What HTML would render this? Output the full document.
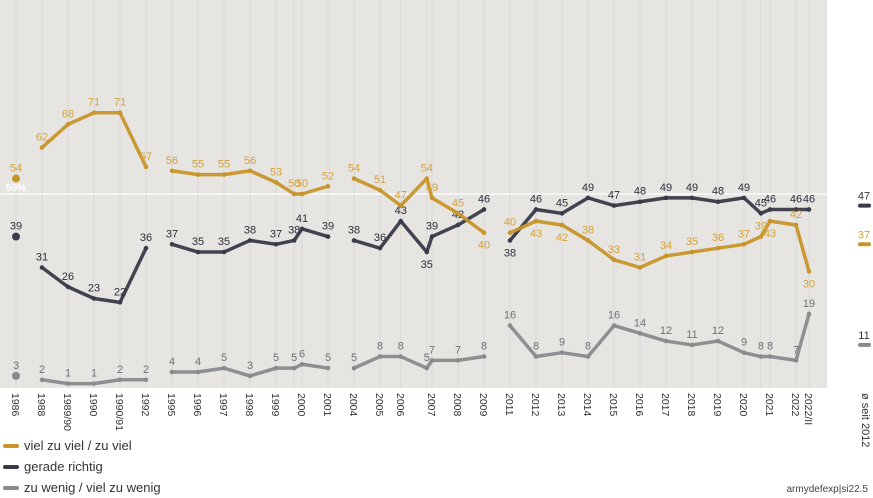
<!DOCTYPE html>
<html><head><meta charset="utf-8"><style>
body{margin:0;background:#fff;font-family:"Liberation Sans",sans-serif}
svg{display:block}
</style></head><body>
<svg id="c" width="873" height="498">
<rect x="0" y="0" width="827" height="388" fill="#e6e5e2"/>
<g id="grid"></g>
<line x1="0" x2="827" y1="194" y2="194" stroke="#fff" stroke-width="1.2"/>
<text x="6" y="191" font-size="10" fill="#fff" font-weight="bold">50%</text>
<g id="series"></g>
<g id="xlabels"></g>
<g id="avg"></g>
<text transform="translate(862,393) rotate(90)" font-size="11" fill="#333">ø seit 2012</text>
<g>
<line x1="5" x2="17" y1="446" y2="446" stroke="#c8952a" stroke-width="4" stroke-linecap="round"/>
<text x="24" y="450" font-size="13" fill="#333">viel zu viel / zu viel</text>
<line x1="5" x2="17" y1="467" y2="467" stroke="#3a3a48" stroke-width="4" stroke-linecap="round"/>
<text x="24" y="471" font-size="13" fill="#333">gerade richtig</text>
<line x1="5" x2="17" y1="488" y2="488" stroke="#8a8a8e" stroke-width="4" stroke-linecap="round"/>
<text x="24" y="492" font-size="13" fill="#333">zu wenig / viel zu wenig</text>
</g>
<text x="868" y="492" font-size="10" fill="#444" text-anchor="end">armydefexp|si22.5</text>
</svg>
<script>
const slots=[0,1,2,3,4,5,6,7,8,9,10,10.7,11,12,13,14,14.8,15.8,16,17,18,19,20,21,22,23,24,25,26,27,28,28.65,29,30,30.5];
const labels=["1986","1988","1989/90","1990","1990/91","1992","1995","1996","1997","1998","1999","","2000","2001","2004","2005","2006","","2007","2008","2009","2011","2012","2013","2014","2015","2016","2017","2018","2019","2020","","2021","2022","2022/II"];
const segStarts=[0,1,6,14,21];
const zuViel=[54,62,68,71,71,57,56,55,55,56,53,50,50,52,54,51,47,54,49,45,40,40,43,42,38,33,31,34,35,36,37,39,43,42,30];
const gerade=[39,31,26,23,22,36,37,35,35,38,37,38,41,39,38,36,43,35,39,42,46,38,46,45,49,47,48,49,49,48,49,45,46,46,46];
const zuWenig=[3,2,1,1,2,2,4,4,5,3,5,5,6,5,5,8,8,5,7,7,8,16,8,9,8,16,14,12,11,12,9,8,8,7,19];
const avgValues=[37,47,11];
const belowZuViel=[20,22,23,32,34];
const belowGerade=[17,21];
const X=s=>16+s*26;
const Y=v=>194-(v-50)*3.87;
const NS="http://www.w3.org/2000/svg";
function mk(tag,attrs,parent){const e=document.createElementNS(NS,tag);for(const k in attrs)e.setAttribute(k,attrs[k]);parent.appendChild(e);return e;}
const grid=document.getElementById('grid'),ser=document.getElementById('series'),xl=document.getElementById('xlabels'),av=document.getElementById('avg');
slots.forEach((s,i)=>{
  const l=mk('line',{x1:X(s),x2:X(s),y1:0,y2:388,stroke:'#d9d8d5','stroke-width':1},grid);
  
  
  if(labels[i]){
    const t=mk('text',{transform:`translate(${X(s)-4},393) rotate(90)`,'font-size':10.5,fill:'#333'},xl);
    t.textContent=labels[i];
    
    
  }
});
const series=[{d:zuWenig,c:'#8a8a8e',lc:'#707075',n:'zu-wenig',below:[]},{d:gerade,c:'#3a3a48',lc:'#2e2e3a',n:'gerade-richtig',below:belowGerade},{d:zuViel,c:'#c8952a',lc:'#d4a23a',n:'zu-viel',below:belowZuViel}];
series.forEach(S=>{
  for(let g=0;g<segStarts.length;g++){
    const a=segStarts[g],b=(g+1<segStarts.length?segStarts[g+1]:slots.length);
    const pts=[];for(let i=a;i<b;i++)pts.push(X(slots[i])+','+Y(S.d[i]));
    if(b-a>1){const p=mk('polyline',{points:pts.join(' '),fill:'none',stroke:S.c,'stroke-width':3.5,'stroke-linejoin':'round','stroke-opacity':0.95},ser);
      
      }
  }
  S.d.forEach((v,i)=>{
    const c=mk('circle',{cx:X(slots[i]),cy:Y(v),r:i===0?4:2.3,fill:S.c},ser);
    
    
    const below=S.below.includes(i);
    const t=mk('text',{x:X(slots[i]),y:Y(v)+(below?16:-7),'font-size':11,fill:S.lc,'text-anchor':'middle'},ser);
    t.textContent=v;
    
    
  });
});
const avgCols=['#c8952a','#3a3a48','#8a8a8e'];
avgValues.forEach((v,i)=>{
  const l=mk('line',{x1:860,x2:869,y1:Y(v),y2:Y(v),stroke:avgCols[i],'stroke-width':4,'stroke-linecap':'round'},av);
  
  
  const t=mk('text',{x:864,y:Y(v)-6,'font-size':11,fill:i===0?'#d4a23a':'#333','text-anchor':'middle'},av);
  t.textContent=v;
  
  
});
</script>
</body></html>
